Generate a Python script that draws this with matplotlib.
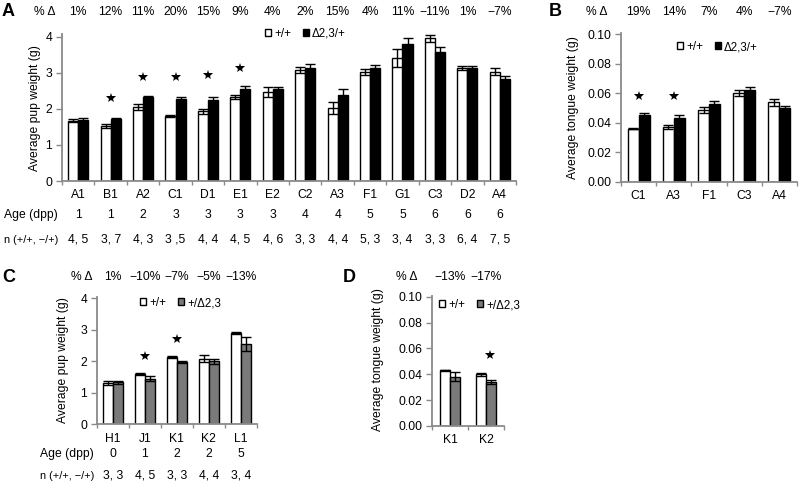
import matplotlib
matplotlib.use('Agg')
import matplotlib.pyplot as plt
from matplotlib.patches import Patch
from matplotlib import transforms
import numpy as np

plt.rcParams['font.family'] = ['Liberation Sans', 'DejaVu Sans']

# ---------------- data ----------------
a_cats = ['A1', 'B1', 'A2', 'C1', 'D1', 'E1', 'E2', 'C2', 'A3', 'F1', 'G1', 'C3', 'D2', 'A4']
a_age = ['1', '1', '2', '3', '3', '3', '3', '4', '4', '5', '5', '6', '6', '6']
a_n = ['4, 5', '3, 7', '4, 3', '3 ,5', '4, 4', '4, 5', '4, 6', '3, 3', '4, 4', '5, 3', '3, 4', '3, 3', '6, 4', '7, 5']
a_pct = ['1%', '12%', '11%', '20%', '15%', '9%', '4%', '2%', '15%', '4%', '11%', '−11%', '1%', '−7%']
a_wt = [1.67, 1.52, 2.05, 1.81, 1.93, 2.33, 2.47, 3.08, 2.03, 3.03, 3.41, 3.96, 3.13, 3.03]
a_wt_err = [0.04, 0.05, 0.08, 0.02, 0.07, 0.05, 0.13, 0.08, 0.16, 0.08, 0.24, 0.10, 0.05, 0.10]
a_mut = [1.68, 1.72, 2.33, 2.27, 2.25, 2.55, 2.55, 3.13, 2.40, 3.13, 3.80, 3.57, 3.13, 2.83]
a_mut_err = [0.08, 0.03, 0.02, 0.07, 0.08, 0.08, 0.06, 0.12, 0.15, 0.10, 0.18, 0.14, 0.05, 0.08]
a_star_cats = ['B1', 'A2', 'C1', 'D1', 'E1']
a_star_y = [2.30, 2.90, 2.90, 2.94, 3.13]

b_cats = ['C1', 'A3', 'F1', 'C3', 'A4']
b_pct = ['19%', '14%', '7%', '4%', '−7%']
b_wt = [0.036, 0.037, 0.049, 0.060, 0.054]
b_wt_err = [0.0005, 0.0015, 0.002, 0.002, 0.0025]
b_mut = [0.045, 0.043, 0.053, 0.062, 0.050]
b_mut_err = [0.0015, 0.002, 0.002, 0.0025, 0.0015]
b_star_cats = ['C1', 'A3']
b_star_y = [0.058, 0.058]

c_cats = ['H1', 'J1', 'K1', 'K2', 'L1']
c_age = ['0', '1', '2', '2', '5']
c_n = ['3, 3', '4, 5', '3, 3', '4, 4', '3, 4']
c_pct = ['1%', '−10%', '−7%', '−5%', '−13%']
c_wt = [1.32, 1.60, 2.13, 2.08, 2.90]
c_wt_err = [0.06, 0.04, 0.03, 0.11, 0.02]
c_mut = [1.33, 1.45, 1.98, 2.00, 2.55]
c_mut_err = [0.06, 0.07, 0.02, 0.08, 0.22]
c_star_cats = ['J1', 'K1']
c_star_y = [2.18, 2.72]

d_cats = ['K1', 'K2']
d_pct = ['−13%', '−17%']
d_wt = [0.043, 0.040]
d_wt_err = [0.0005, 0.0012]
d_mut = [0.038, 0.034]
d_mut_err = [0.0035, 0.0015]
d_star_cats = ['K2']
d_star_y = [0.055]

# ---------------- figure ----------------
W, H = 800, 495
fig = plt.figure(figsize=(W / 100, H / 100), dpi=100)
FS = 8.7
FS_N = 7.9
SPINE = '#8a8a8a'
GREY = '#7a7a7a'


def axes_px(l, r, t, b):
    return fig.add_axes([l / W, 1 - b / H, (r - l) / W, (b - t) / H])


def fy(ypix):
    return 1 - ypix / H


def panel(ax, cats, wt, wt_err, mut, mut_err, mcolor, ymax, yticks, yfmt, bw,
          star_cats, star_y, star_dx=0.0):
    x = np.arange(len(cats))
    ax.bar(x - bw / 2, wt, bw, color='white', edgecolor='black', linewidth=1.0, zorder=2)
    ax.bar(x + bw / 2, mut, bw, color=mcolor, edgecolor='black', linewidth=1.0, zorder=2)
    ax.errorbar(x - bw / 2, wt, yerr=wt_err, fmt='none', ecolor='black',
                elinewidth=1.0, capsize=3.6, capthick=1.0, zorder=3)
    ax.errorbar(x + bw / 2, mut, yerr=mut_err, fmt='none', ecolor='black',
                elinewidth=1.0, capsize=3.6, capthick=1.0, zorder=3)
    sx = [cats.index(c) + star_dx for c in star_cats]
    ax.plot(sx, star_y, ls='none', marker='*', ms=7, color='black', mew=0, zorder=4)
    ax.set_xlim(-0.5, len(cats) - 0.5)
    ax.set_ylim(0, ymax)
    ax.set_yticks(yticks)
    ax.set_yticklabels([yfmt.format(v) for v in yticks], fontsize=FS)
    ax.set_xticks(x)
    ax.set_xticklabels(cats, fontsize=FS)
    ax.set_xticks(np.arange(len(cats) + 1) - 0.5, minor=True)
    ax.tick_params(axis='x', which='major', length=0, pad=6)
    ax.tick_params(axis='x', which='minor', length=3, color=SPINE, width=1.0)
    ax.tick_params(axis='y', length=4, color=SPINE, width=1.0, pad=3)
    for s in ['top', 'right']:
        ax.spines[s].set_visible(False)
    for s in ['left', 'bottom']:
        ax.spines[s].set_color(SPINE)
        ax.spines[s].set_linewidth(1.3)


def row(ax, labels, ypix, fs=FS):
    tr = transforms.blended_transform_factory(ax.transData, fig.transFigure)
    for i, t in enumerate(labels):
        ax.text(i, fy(ypix), t, transform=tr, ha='center', va='center', fontsize=fs)


def legend(labels, colors, xpix, ypix):
    handles = [Patch(facecolor=c, edgecolor='black', linewidth=1.0) for c in colors]
    fig.legend(handles, labels, loc='center left', bbox_to_anchor=(xpix / W, fy(ypix)),
               ncol=2, frameon=False, fontsize=8.3, handlelength=0.55, handleheight=0.55,
               handletextpad=0.25, columnspacing=1.0, borderpad=0, borderaxespad=0)


# Panel A
axA = axes_px(62, 516, 34, 181)
panel(axA, a_cats, a_wt, a_wt_err, a_mut, a_mut_err, 'black', 4.08,
      [0, 1, 2, 3, 4], '{:.0f}', 0.31, a_star_cats, a_star_y)
row(axA, a_pct, 12)
row(axA, a_age, 215)
row(axA, a_n, 240)
fig.text(45 / W, fy(12), '% Δ', ha='center', va='center', fontsize=FS)
fig.text(58 / W, fy(215), 'Age (dpp)', ha='right', va='center', fontsize=FS)
fig.text(58 / W, fy(240), 'n (+/+, −/+)', ha='right', va='center', fontsize=FS_N)
fig.text(35 / W, fy(108), 'Average pup weight (g)', rotation=90, ha='center', va='center', fontsize=FS)
fig.text(2 / W, fy(12), 'A', ha='left', va='center', fontsize=13, fontweight='bold')
legend(['+/+', 'Δ2,3/+'], ['white', 'black'], 265, 34)

# Panel B
axB = axes_px(621, 797, 33, 181.7)
panel(axB, b_cats, b_wt, b_wt_err, b_mut, b_mut_err, 'black', 0.101,
      [0, 0.02, 0.04, 0.06, 0.08, 0.10], '{:.2f}', 0.31, b_star_cats, b_star_y)
row(axB, b_pct, 12)
fig.text(597 / W, fy(12), '% Δ', ha='center', va='center', fontsize=FS)
fig.text(573 / W, fy(108), 'Average tongue weight (g)', rotation=90, ha='center', va='center', fontsize=FS)
fig.text(549 / W, fy(12), 'B', ha='left', va='center', fontsize=13, fontweight='bold')
legend(['+/+', 'Δ2,3/+'], ['white', 'black'], 677, 47)

# Panel C
axC = axes_px(96.7, 257, 296.5, 424.3)
panel(axC, c_cats, c_wt, c_wt_err, c_mut, c_mut_err, GREY, 4.06,
      [0, 1, 2, 3, 4], '{:.0f}', 0.31, c_star_cats, c_star_y)
row(axC, c_pct, 277)
row(axC, c_age, 454)
row(axC, c_n, 476)
fig.text(82 / W, fy(277), '% Δ', ha='center', va='center', fontsize=FS)
fig.text(94 / W, fy(454), 'Age (dpp)', ha='right', va='center', fontsize=FS)
fig.text(94 / W, fy(476), 'n (+/+, −/+)', ha='right', va='center', fontsize=FS_N)
fig.text(63 / W, fy(360), 'Average pup weight (g)', rotation=90, ha='center', va='center', fontsize=FS)
fig.text(2 / W, fy(277), 'C', ha='left', va='center', fontsize=13, fontweight='bold')
legend(['+/+', '+/Δ2,3'], ['white', GREY], 140, 303)

# Panel D
axD = axes_px(432.3, 504, 295.5, 426)
panel(axD, d_cats, d_wt, d_wt_err, d_mut, d_mut_err, GREY, 0.101,
      [0, 0.02, 0.04, 0.06, 0.08, 0.10], '{:.2f}', 0.28, d_star_cats, d_star_y, star_dx=0.1)
row(axD, d_pct, 277)
fig.text(407 / W, fy(277), '% Δ', ha='center', va='center', fontsize=FS)
fig.text(378 / W, fy(360), 'Average tongue weight (g)', rotation=90, ha='center', va='center', fontsize=FS)
fig.text(343 / W, fy(277), 'D', ha='left', va='center', fontsize=13, fontweight='bold')
legend(['+/+', '+/Δ2,3'], ['white', GREY], 439, 305)

fig.savefig('out.png', dpi=100)
